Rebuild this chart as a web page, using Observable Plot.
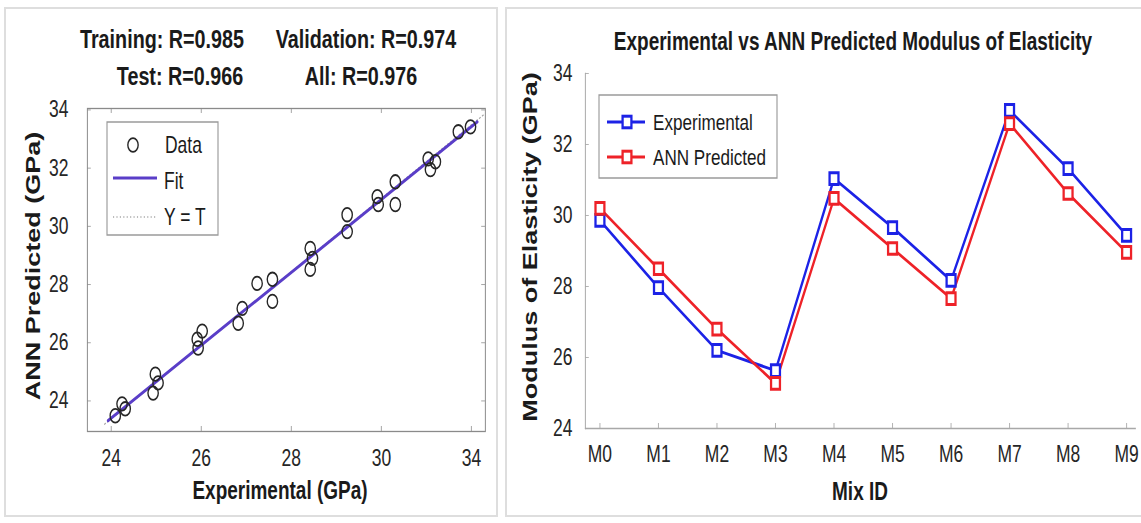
<!DOCTYPE html>
<html><head><meta charset="utf-8">
<script src="https://cdn.jsdelivr.net/npm/d3@7"></script>
<script src="https://cdn.jsdelivr.net/npm/@observablehq/plot@0.6"></script>
<style>
html,body{margin:0;padding:0;background:#fff;}
body{width:1141px;height:523px;position:relative;overflow:hidden;font-family:"Liberation Sans",Arial,sans-serif;}
.border{position:absolute;border:2px solid #dedede;box-sizing:border-box;}
.panel{position:absolute;top:0;height:523px;transform-origin:0 0;}
.panel svg{position:absolute;left:0;top:0;overflow:visible;}
</style></head><body>
<div class="border" style="left:4px;top:7px;width:494px;height:510px"></div>
<div class="border" style="left:505px;top:7px;width:645px;height:510px"></div>
<div id="left" class="panel" style="left:0"></div>
<div id="right" class="panel" style="left:500px"></div>
<script>
// ---------- data: left panel (regression) ----------
const leftExperimental = [24.24,24.31,24.09,24.98,24.93,25.04,26.02,25.93,25.91,26.91,26.82,27.24,27.58,27.58,28.42,28.42,28.47,29.24,29.24,29.91,29.93,30.31,30.31,31.04,31.09,31.20,31.71,31.98];
const leftPredicted    = [23.90,23.73,23.49,24.92,24.27,24.62,26.40,25.82,26.12,27.18,26.67,28.04,28.18,27.42,29.24,28.52,28.90,30.40,29.82,31.02,30.75,31.53,30.75,32.32,31.95,32.22,33.25,33.42];
const fitX = [23.93, 32.13];
const fitY = [23.32, 33.59];
const ytX = [23.85, 32.27];
const ytY = [23.20, 33.83];
const leftXTicks = [24, 26, 28, 30, 32];
const leftXTickLabels = ["24", "26", "28", "30", "34"];
const leftYTicks = [24, 26, 28, 30, 32, 34];
const leftTitles = ["Training: R=0.985", "Validation: R=0.974", "Test: R=0.966", "All: R=0.976"];

// ---------- data: right panel (series) ----------
const mixIds = ["M0","M1","M2","M3","M4","M5","M6","M7","M8","M9"];
const experimental = [29.86,27.97,26.20,25.63,31.04,29.66,28.17,32.96,31.32,29.44];
const annPredicted = [30.20,28.50,26.80,25.27,30.48,29.07,27.66,32.59,30.62,28.96];
const rightYTicks = [24, 26, 28, 30, 32, 34];

const S = 0.76;          // horizontal squeeze of the reference picture
const H = 523;
const FONT = "Liberation Sans, Arial, sans-serif";
const BLUE = "#1c22e6", RED = "#ee2228", PURPLE = "#5a3ec8";

// ---------------- LEFT ----------------
{
  const W = 500 / S;
  const mL = 87 / S, mR = W - 485 / S, mT = 108, mB = 92;
  const pw = W - mL - mR, ph = H - mT - mB;
  const pts = leftExperimental.map((x, i) => ({x, y: leftPredicted[i]}));
  const fit = fitX.map((x, i) => ({x, y: fitY[i]}));
  const yt = ytX.map((x, i) => ({x, y: ytY[i]}));
  const svg = Plot.plot({
    width: W, height: H,
    marginLeft: mL, marginRight: mR, marginTop: mT, marginBottom: mB,
    x: {domain: [23.47, 32.31]},
    y: {domain: [22.95, 34.05]},
    style: {fontFamily: FONT, fontSize: "23px", color: "#262626", background: "transparent", overflow: "visible"},
    marks: [
      Plot.tickX(leftXTicks, {stroke: "#9a9a9a", insetTop: ph - 5}),
      Plot.tickX(leftXTicks, {stroke: "#9a9a9a", insetBottom: ph - 5}),
      Plot.tickY(leftYTicks, {stroke: "#9a9a9a", insetRight: pw - 5}),
      Plot.tickY(leftYTicks, {stroke: "#9a9a9a", insetLeft: pw - 5}),
      Plot.frame({stroke: "#8a8a8a", strokeWidth: 1.3}),
      Plot.axisX(leftXTicks, {tickSize: 0, tickPadding: 18, fontSize: 23, label: null,
        tickFormat: d => leftXTickLabels[leftXTicks.indexOf(d)]}),
      Plot.axisY(leftYTicks, {tickSize: 0, tickPadding: 25, fontSize: 23, label: null}),
      Plot.line(yt, {x: "x", y: "y", stroke: "#a5a5a5", strokeWidth: 1.3, strokeDasharray: "1.5,3"}),
      Plot.line(fit, {x: "x", y: "y", stroke: PURPLE, strokeWidth: 3.2}),
      Plot.dot(pts, {x: "x", y: "y", r: 6.8, stroke: "#262626", strokeWidth: 1.8, fill: "none"})
    ]
  });
  const panel = document.getElementById("left");
  panel.style.width = W + "px";
  panel.style.transform = `scaleX(${S})`;
  panel.appendChild(svg);

  const ov = d3.select(panel).append("svg").attr("width", W).attr("height", H)
    .style("font-family", FONT).style("fill", "#1a1a1a");
  const t = (txt, x, y, size, weight, anchor = "middle", rot = 0) =>
    ov.append("text").attr("transform", `translate(${x},${y}) rotate(${rot})`)
      .attr("text-anchor", anchor).attr("font-size", size).attr("font-weight", weight).text(txt);
  t(leftTitles[0], 162 / S, 48, 26, "bold");
  t(leftTitles[1], 366 / S, 48, 26, "bold");
  t(leftTitles[2], 180 / S, 85, 26, "bold");
  t(leftTitles[3], 361 / S, 85, 26, "bold");
  t("ANN Predicted (GPa)", 40 / S, 266, 27, "bold", "middle", -90);
  t("Experimental (GPa)", 280 / S, 499, 25, "bold");
  // legend
  ov.append("rect").attr("x", 107 / S).attr("y", 122).attr("width", 111 / S).attr("height", 113)
    .attr("fill", "#fff").attr("stroke", "#9a9a9a").attr("stroke-width", 1.5);
  ov.append("circle").attr("cx", 133 / S).attr("cy", 145).attr("r", 6.8)
    .attr("fill", "none").attr("stroke", "#262626").attr("stroke-width", 1.8);
  ov.append("line").attr("x1", 113 / S).attr("x2", 157 / S).attr("y1", 178).attr("y2", 178)
    .attr("stroke", PURPLE).attr("stroke-width", 3.2);
  ov.append("line").attr("x1", 113 / S).attr("x2", 157 / S).attr("y1", 217).attr("y2", 217)
    .attr("stroke", "#a5a5a5").attr("stroke-width", 1.3).attr("stroke-dasharray", "1.5,3");
  t("Data", 165 / S, 153, 23, "normal", "start");
  t("Fit", 164 / S, 189, 23, "normal", "start");
  t("Y = T", 164 / S, 225, 23, "normal", "start");
}

// ---------------- RIGHT ----------------
{
  const W = 641 / S;
  const mL = 85 / S, mR = W - 635 / S, mT = 73, mB = 95;
  const pw = W - mL - mR, ph = H - mT - mB;
  const rows = [];
  mixIds.forEach((m, i) => rows.push({mix: m, v: experimental[i], s: "Experimental"}));
  mixIds.forEach((m, i) => rows.push({mix: m, v: annPredicted[i], s: "ANN Predicted"}));
  const exp = rows.filter(d => d.s === "Experimental");
  const ann = rows.filter(d => d.s === "ANN Predicted");
  const svg = Plot.plot({
    width: W, height: H,
    marginLeft: mL, marginRight: mR, marginTop: mT, marginBottom: mB,
    x: {type: "point", domain: mixIds, range: [98 / S, 628 / S], padding: 0},
    y: {domain: [24, 34]},
    style: {fontFamily: FONT, fontSize: "23px", color: "#262626", background: "transparent", overflow: "visible"},
    marks: [
      Plot.frame({anchor: "left", stroke: "#a8a8a8", strokeWidth: 1.3}),
      Plot.frame({anchor: "bottom", stroke: "#a8a8a8", strokeWidth: 1.3}),
      Plot.tickY(rightYTicks, {stroke: "#a8a8a8", insetRight: pw - 5}),
      Plot.tickX(mixIds, {stroke: "#a8a8a8", insetTop: ph - 5}),
      Plot.axisX(mixIds, {tickSize: 0, tickPadding: 17, fontSize: 23, label: null}),
      Plot.axisY(rightYTicks, {tickSize: 0, tickPadding: 17, fontSize: 23, label: null}),
      Plot.line(exp, {x: "mix", y: "v", stroke: BLUE, strokeWidth: 3}),
      Plot.line(ann, {x: "mix", y: "v", stroke: RED, strokeWidth: 3}),
      Plot.dot(exp, {x: "mix", y: "v", symbol: "square", r: 6.6, stroke: BLUE, strokeWidth: 3, fill: "#fff"}),
      Plot.dot(ann, {x: "mix", y: "v", symbol: "square", r: 6.6, stroke: RED, strokeWidth: 3, fill: "#fff"})
    ]
  });
  const panel = document.getElementById("right");
  panel.style.width = W + "px";
  panel.style.transform = `scaleX(${S})`;
  panel.appendChild(svg);

  const ov = d3.select(panel).append("svg").attr("width", W).attr("height", H)
    .style("font-family", FONT).style("fill", "#1a1a1a");
  const t = (txt, x, y, size, weight, anchor = "middle", rot = 0) =>
    ov.append("text").attr("transform", `translate(${x},${y}) rotate(${rot})`)
      .attr("text-anchor", anchor).attr("font-size", size).attr("font-weight", weight).text(txt);
  t("Experimental vs ANN Predicted Modulus of Elasticity", 353 / S, 50, 25, "bold");
  t("Modulus of Elasticity (GPa)", 37 / S, 247, 27, "bold", "middle", -90);
  t("Mix ID", 360 / S, 500, 25, "bold");
  // legend
  ov.append("rect").attr("x", 99 / S).attr("y", 95).attr("width", 178 / S).attr("height", 83)
    .attr("fill", "#fff").attr("stroke", "#9a9a9a").attr("stroke-width", 1.5);
  [[BLUE, 122, "Experimental"], [RED, 157, "ANN Predicted"]].forEach(([c, y, label]) => {
    ov.append("line").attr("x1", 107 / S).attr("x2", 145 / S).attr("y1", y).attr("y2", y)
      .attr("stroke", c).attr("stroke-width", 3);
    ov.append("rect").attr("x", 127 / S - 5.8).attr("y", y - 5.8).attr("width", 11.6).attr("height", 11.6)
      .attr("fill", "#fff").attr("stroke", c).attr("stroke-width", 3);
    t(label, 153 / S, y + 8, 22.5, "normal", "start");
  });
}
</script>
</body></html>
